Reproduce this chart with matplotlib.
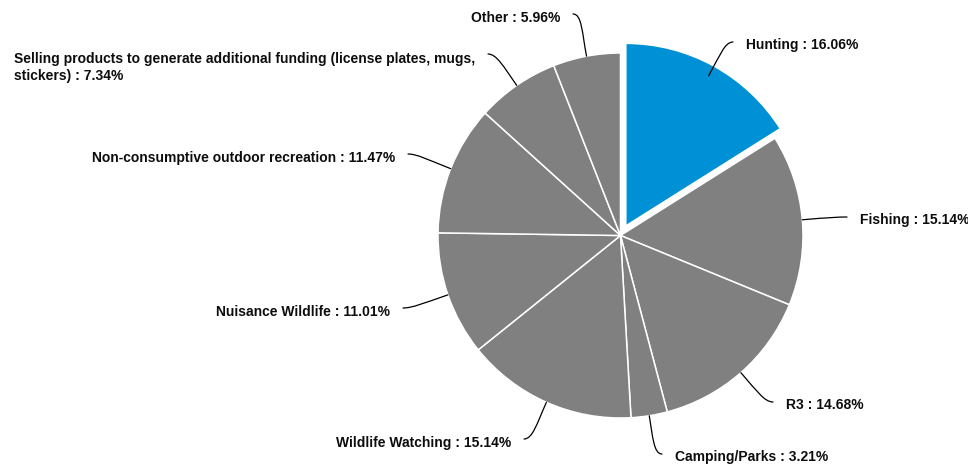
import matplotlib
matplotlib.use("Agg")
import matplotlib.pyplot as plt
from matplotlib.path import Path
from matplotlib.patches import PathPatch
import numpy as np

plt.rcParams['font.family'] = ['Liberation Sans', 'DejaVu Sans']

# Shares of activity categories (percent)
categories = [
    "Hunting",
    "Fishing",
    "R3",
    "Camping/Parks",
    "Wildlife Watching",
    "Nuisance Wildlife",
    "Non-consumptive outdoor recreation",
    "Selling products to generate additional funding (license plates, mugs,\nstickers)",
    "Other",
]
shares = [16.06, 15.14, 14.68, 3.21, 15.14, 11.01, 11.47, 7.34, 5.96]
highlighted = "Hunting"

# Layout (pixel space, y measured from top)
W, H = 968, 465
CENTER = (620.5, H - 235.5)
RADIUS = 182.5
EXPLODE_PX = 11
# where each connector ends, and which side the text sits on
label_ends = [(733, 42), (847, 217), (773, 402), (662, 454), (524, 439),
              (403, 308), (408, 154), (488, 54), (573, 14)]
label_side = ['right', 'right', 'right', 'right', 'left',
              'left', 'left', 'left', 'left']
label_dy = [3, 3, 3, 3, 4, 4, 4, 4, 4]

BLUE = "#0090d5"
GREY = "#808080"
TEXT = "#0d0d0d"

fig = plt.figure(figsize=(W / 100, H / 100), dpi=100)
ax = fig.add_axes([0, 0, 1, 1])
ax.set_xlim(0, W)
ax.set_ylim(0, H)

colors = [BLUE if c == highlighted else GREY for c in categories]
explode = [EXPLODE_PX if c == highlighted else 0 for c in categories]

wedges, _ = ax.pie(
    shares, colors=colors, explode=explode, center=CENTER, radius=RADIUS,
    startangle=90, counterclock=False, frame=True,
    wedgeprops=dict(edgecolor="white", linewidth=1.1),
)
ax.set_xlim(0, W)
ax.set_ylim(0, H)
ax.set_aspect("equal")
ax.axis("off")

for w, cat, val, end, side, dy in zip(wedges, categories, shares,
                                     label_ends, label_side, label_dy):
    # connectors start on the rim of the un-exploded pie
    mid = np.deg2rad((w.theta1 + w.theta2) / 2)
    ux, uy = np.cos(mid), np.sin(mid)
    sx, sy = CENTER[0] + w.r * ux, CENTER[1] + w.r * uy
    ex, ey = end[0], H - end[1]
    L = np.hypot(ex - sx, ey - sy)
    hdir = 1 if side == 'right' else -1
    p1 = (sx + ux * L * 0.55, sy + uy * L * 0.55)
    p2 = (ex - hdir * L * 0.2, ey)
    path = Path([(sx, sy), p1, p2, (ex, ey)],
                [Path.MOVETO, Path.CURVE4, Path.CURVE4, Path.CURVE4])
    ax.add_patch(PathPatch(path, fill=False, edgecolor="black", lw=0.9,
                           capstyle="round"))
    label = f"{cat} : {val:.2f}%"
    tx = ex + hdir * 13
    if "\n" in cat:
        # two-line label: first line sits beside the connector end
        ax.text(tx, H - end[1] - dy + 5.5, label, ha='right', va='top',
                multialignment='left', fontsize=10, fontweight='bold',
                color=TEXT, linespacing=1.25)
    else:
        ax.text(tx, H - end[1] - dy, label,
                ha='left' if side == 'right' else 'right', va='center',
                fontsize=10, fontweight='bold', color=TEXT)

fig.savefig("out.png", dpi=100)
